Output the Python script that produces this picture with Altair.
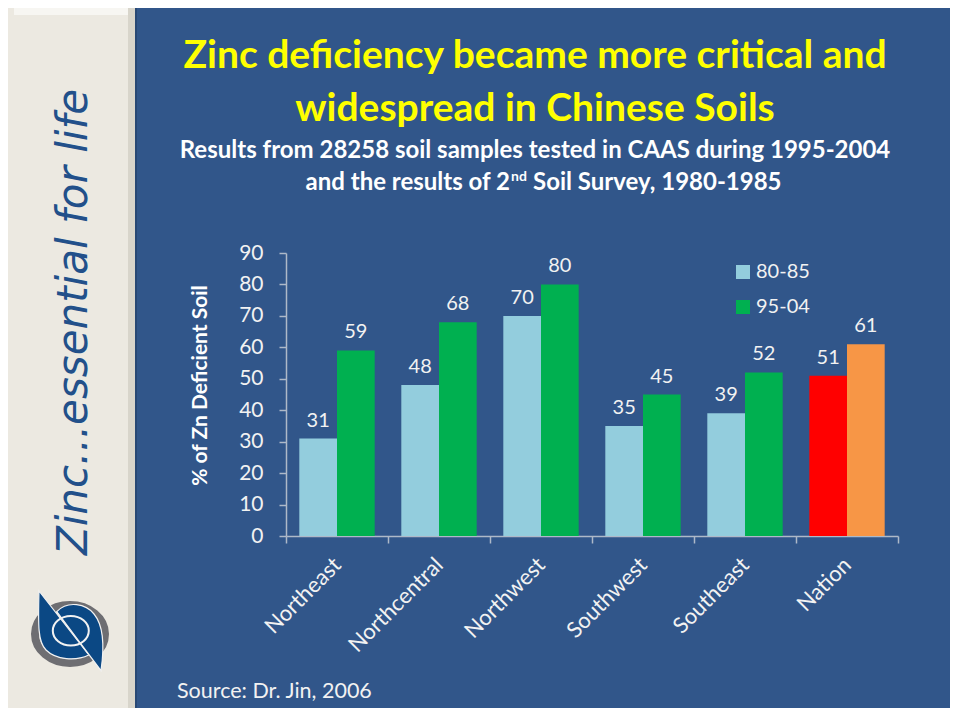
import altair as alt
import pandas as pd

# ---------------- data ----------------
regions = ["Northeast", "Northcentral", "Northwest", "Southwest", "Southeast", "Nation"]
periods = ["80-85", "95-04"]
values_80_85 = [31, 48, 70, 35, 39, 51]
values_95_04 = [59, 68, 80, 45, 52, 61]
y_ticks = [0, 10, 20, 30, 40, 50, 60, 70, 80, 90]

color_keys = ["80-85", "95-04", "Nation 80-85", "Nation 95-04"]
color_values = ["#93CDDD", "#00B050", "#FF0000", "#F79646"]

title_lines = ["Zinc deficiency became more critical and", "widespread in Chinese Soils"]
subtitle_line1 = "Results from 28258 soil samples tested in CAAS during 1995-2004"
subtitle_line2 = ["and the results of 2", "nd", "Soil Survey, 1980-1985"]
source_text = "Source: Dr. Jin, 2006"
sidebar_text = "Zinc...essential for life"
y_title = "% of Zn Deficient Soil"

rows = []
for r, a, b in zip(regions, values_80_85, values_95_04):
    for p, v in zip(periods, (a, b)):
        key = ("Nation " + p) if r == "Nation" else p
        rows.append({"region": r, "period": p, "value": v, "key": key})
df = pd.DataFrame(rows)

BG = "#31568A"
FONT = "Lato"
TXT = "#F2F2F2"
AXIS = "#AEB9C8"

PW, PH = 612, 283
TOTAL_W, TOTAL_H = 942, 700
PAD_L, PAD_T = 278, 245

one = pd.DataFrame({"k": [0]})

# ---------------- decorations ----------------
sidebar = alt.Chart(one).mark_rect(color="#ECE9E1").encode(
    x=alt.value(-PAD_L), x2=alt.value(-151), y=alt.value(-PAD_T), y2=alt.value(TOTAL_H - PAD_T)
)
sidebar_top = alt.Chart(one).mark_rect(color="#F7F6F2").encode(
    x=alt.value(-PAD_L + 6), x2=alt.value(-157), y=alt.value(-PAD_T), y2=alt.value(-PAD_T + 7)
)
sidebar_edge = alt.Chart(one).mark_rect(color="#D8D5CB").encode(
    x=alt.value(-158), x2=alt.value(-151), y=alt.value(-PAD_T), y2=alt.value(TOTAL_H - PAD_T)
)
sidebar_shadow = alt.Chart(one).mark_rect(color="#284874").encode(
    x=alt.value(-151), x2=alt.value(-149), y=alt.value(-PAD_T), y2=alt.value(TOTAL_H - PAD_T)
)
side_txt = alt.Chart(pd.DataFrame({"t": [sidebar_text]})).mark_text(
    font="DejaVu Sans", fontStyle="italic", fontWeight=200, fontSize=42, angle=270,
    align="center", baseline="alphabetic", color="#22508A"
).encode(x=alt.value(-199), y=alt.value(69), text="t:N")

LX, LY, LS = -216, 381, 6400
ring = alt.Chart(one).mark_point(
    shape="M -0.875 0 A 0.875 0.725 0 1 0 0.875 0 A 0.875 0.725 0 1 0 -0.875 0 Z",
    filled=False, stroke="#6E6E72", strokeWidth=8, opacity=1, size=LS
).encode(x=alt.value(LX), y=alt.value(LY))
logo_left = alt.Chart(one).mark_point(
    shape="M -0.775 -1.075 L 0.47 0.525 C 0.15 0.68 -0.35 0.65 -0.6 0.4 C -0.8 0.2 -0.8 -0.2 -0.775 -1.075 Z",
    filled=True, fill="#0B4884", stroke="#F2F2F2", strokeWidth=1.2, opacity=1, size=LS
).encode(x=alt.value(LX), y=alt.value(LY))
logo_right = alt.Chart(one).mark_point(
    shape="M -0.33 -0.56 L 0.775 0.917 C 0.85 0.4 0.85 -0.2 0.6 -0.5 C 0.4 -0.75 -0.05 -0.85 -0.33 -0.56 Z",
    filled=True, fill="#0B4884", stroke="#F2F2F2", strokeWidth=1.2, opacity=1, size=LS
).encode(x=alt.value(LX), y=alt.value(LY))
logo_inner = alt.Chart(one).mark_point(
    shape="M -0.43 -0.08 A 0.45 0.37 0 1 0 0.47 -0.08 A 0.45 0.37 0 1 0 -0.43 -0.08 Z",
    filled=False, stroke="#F2F2F2", strokeWidth=2, opacity=1, size=LS
).encode(x=alt.value(LX), y=alt.value(LY))

def text_layer(s, x, y, size, weight="normal", color="#FFFFFF", align="center"):
    return alt.Chart(pd.DataFrame({"t": [s]})).mark_text(
        font=FONT, fontSize=size, fontWeight=weight, color=color,
        align=align, baseline="alphabetic"
    ).encode(x=alt.value(x), y=alt.value(y), text="t:N")

t1 = text_layer(title_lines[0], 249, -185, 39, "bold", "#FFFF00")
t2 = text_layer(title_lines[1], 249, -132, 39, "bold", "#FFFF00")
s1 = text_layer(subtitle_line1, 249, -95, 24, "bold")
s2a = text_layer(subtitle_line2[0], 224, -63, 24, "bold", align="right")
s2b = text_layer(subtitle_line2[1], 225, -72, 14, "bold", align="left")
s2c = text_layer(subtitle_line2[2], 247, -63, 24, "bold", align="left")
src = text_layer(source_text, -109, 445, 21.5, "normal", TXT, align="left")

# ---------------- chart ----------------
x_enc = alt.X(
    "region:N", sort=regions,
    scale=alt.Scale(paddingInner=0, paddingOuter=0),
    axis=alt.Axis(
        title=None, labelAngle=-45, labelAlign="right", labelBaseline="middle",
        labelFont=FONT, labelFontSize=22, labelColor=TXT, labelPadding=18,
        tickBand="extent", tickSize=7, tickColor=AXIS, tickWidth=1.5,
        domainColor=AXIS, domainWidth=1.5,
    ),
)
xoff = alt.XOffset("period:N", sort=periods,
                   scale=alt.Scale(paddingInner=0, paddingOuter=0.353))
y_enc = alt.Y(
    "value:Q",
    scale=alt.Scale(domain=[0, 90], nice=False),
    axis=alt.Axis(
        values=y_ticks, tickCount=10, grid=False, labelOverlap=False, labelFont=FONT,
        labelFontSize=21, labelColor=TXT, labelPadding=16, tickSize=7, tickColor=AXIS,
        tickWidth=1.5, domainColor=AXIS, domainWidth=1.5,
        title=y_title, titleFont=FONT, titleFontSize=21, titleFontWeight="bold",
        titleColor="#FFFFFF", titleAngle=270, titleAlign="center", titleBaseline="middle",
        titleX=-86, titleY=132,
    ),
)
color_enc = alt.Color(
    "key:N",
    scale=alt.Scale(domain=color_keys, range=color_values),
    legend=alt.Legend(
        values=periods, title=None, orient="none", legendX=447, legendY=9,
        symbolType="square", symbolSize=196, symbolStrokeWidth=0, symbolOpacity=1,
        labelFont=FONT, labelFontSize=20, labelColor=TXT, labelOffset=3,
        rowPadding=15, padding=0,
    ),
)

base = alt.Chart(df)
bars = base.mark_bar(opacity=1).encode(x=x_enc, xOffset=xoff, y=y_enc, color=color_enc)
labels = base.mark_text(
    font=FONT, fontSize=20, color=TXT, baseline="alphabetic", dy=-12
).encode(x=x_enc, xOffset=xoff, y=y_enc, text="value:Q")

chart = alt.layer(
    sidebar, sidebar_top, sidebar_edge, sidebar_shadow, side_txt,
    ring, logo_left, logo_right, logo_inner,
    t1, t2, s1, s2a, s2b, s2c, src,
    bars, labels,
).properties(
    width=PW, height=PH,
    autosize=alt.AutoSizeParams(type="none"),
    padding={"left": PAD_L, "top": PAD_T, "right": TOTAL_W - PAD_L - PW, "bottom": TOTAL_H - PAD_T - PH},
    background=BG,
).configure_view(stroke=None).configure_axis(labelOverlap=False)

chart.save("out.html", embed_options={"renderer": "svg", "actions": False})
